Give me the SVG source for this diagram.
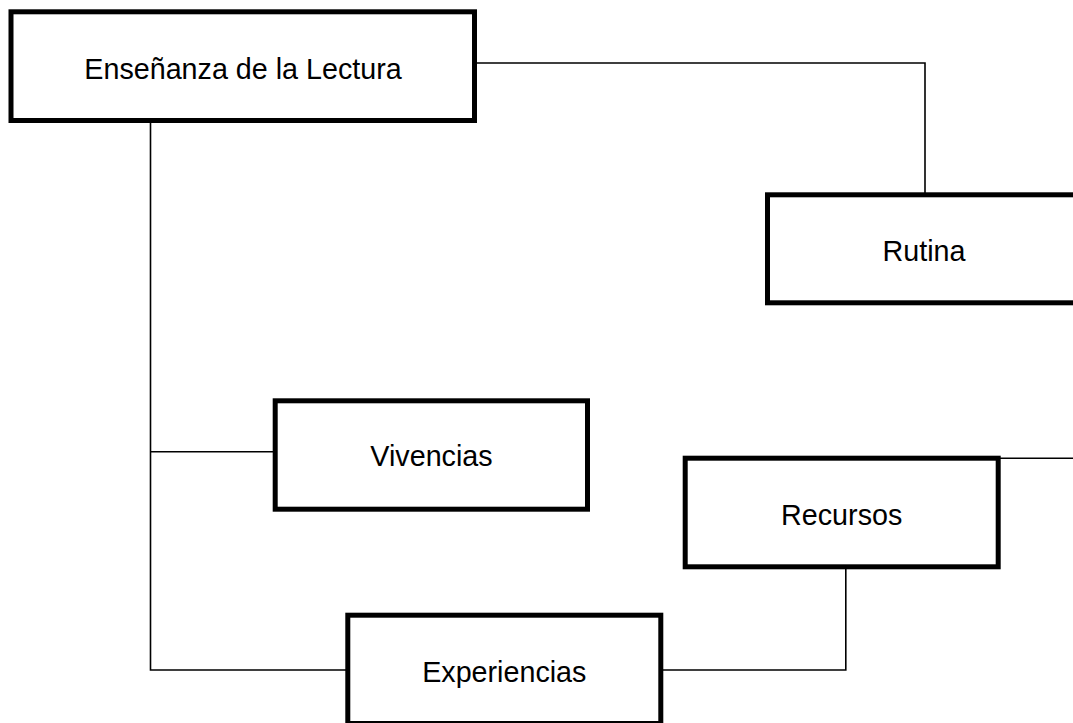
<svg xmlns="http://www.w3.org/2000/svg" width="1073" height="723" viewBox="0 0 1073 723">
<style>
.box{fill:#fff;stroke:#000;stroke-width:5}
.lbl{font-family:"Liberation Sans",Arial,sans-serif;font-size:28.7px;fill:#000;text-anchor:middle}
.conn{fill:none;stroke:#000;stroke-width:1.6}
</style>
<rect width="1073" height="723" fill="#fff"/>
<g id="connectors">
<polyline class="conn" points="477,63 925,63 925,193"/>
<polyline class="conn" points="150.5,122 150.5,670 346,670"/>
<line class="conn" x1="150.5" y1="451.7" x2="274" y2="451.7"/>
<polyline class="conn" points="662,670 845.8,670 845.8,568"/>
<line class="conn" x1="1000" y1="458.3" x2="1073" y2="458.3"/>
</g>
<g id="node-ensenanza">
<rect class="box" x="11" y="11.8" width="463.5" height="108.7"/>
<text class="lbl" x="243" y="79.3">Enseñanza de la Lectura</text>
</g>
<g id="node-rutina">
<rect class="box" x="767.5" y="194.8" width="318" height="108"/>
<text class="lbl" x="924" y="261">Rutina</text>
</g>
<g id="node-vivencias">
<rect class="box" x="275.2" y="400.8" width="312.3" height="108.4"/>
<text class="lbl" x="431.5" y="466">Vivencias</text>
</g>
<g id="node-recursos">
<rect class="box" x="685.2" y="458.2" width="313" height="108.6"/>
<text class="lbl" x="841.7" y="524.5">Recursos</text>
</g>
<g id="node-experiencias">
<rect class="box" x="347.8" y="615.2" width="313" height="108.3"/>
<text class="lbl" x="504.3" y="681.5">Experiencias</text>
</g>
</svg>
